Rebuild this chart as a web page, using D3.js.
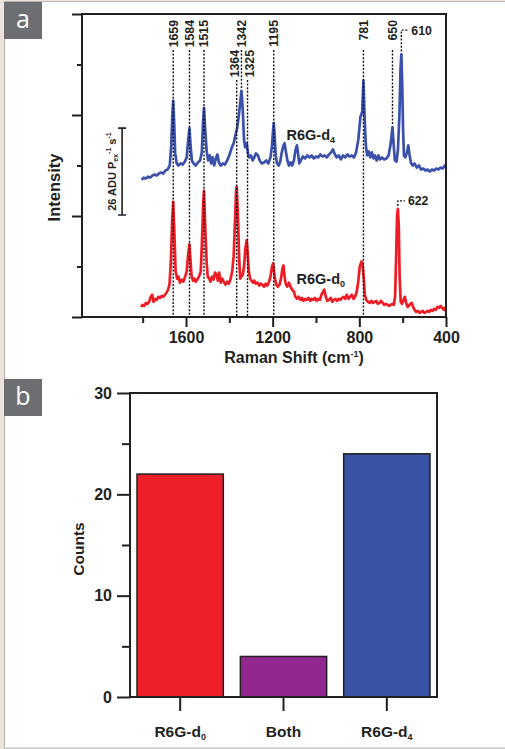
<!DOCTYPE html>
<html>
<head>
<meta charset="utf-8">
<script src="https://cdn.jsdelivr.net/npm/d3@7"></script>
<style>
    body { margin: 0; background: #ece3d9; }
    svg { display: block; }
    text { font-family: "Liberation Sans", Arial, sans-serif; font-weight: bold; fill: #231f20; }
</style>
</head>
<body>
<div id="chart"></div>
<script>
// ---- data: panel a, Raman spectra [shift (cm-1), intensity (a.u.)]
const spectrumD4 = [
    [1805, 136], [1795, 138], [1785, 137], [1775, 139], [1765, 138], [1755, 140], [1745, 141], [1735, 140],
    [1725, 142], [1715, 143], [1705, 142], [1695, 145], [1685, 146], [1675, 150], [1668, 170], [1663, 200],
    [1659, 214], [1655, 195], [1650, 162], [1643, 152], [1635, 150], [1625, 152], [1615, 151], [1605, 154],
    [1597, 158], [1590, 175], [1584, 187], [1579, 170], [1573, 155], [1565, 152], [1555, 150], [1545, 153],
    [1535, 155], [1527, 163], [1522, 190], [1517, 207], [1512, 188], [1505, 165], [1498, 155], [1490, 160],
    [1484, 152], [1477, 158], [1470, 150], [1462, 157], [1455, 161], [1448, 153], [1440, 150], [1430, 152],
    [1420, 151], [1410, 155], [1400, 160], [1390, 167], [1380, 172], [1372, 180], [1364, 187], [1357, 198],
    [1350, 212], [1344, 224], [1338, 205], [1332, 175], [1327, 168], [1320, 172], [1314, 162], [1308, 158],
    [1300, 160], [1292, 155], [1285, 158], [1277, 162], [1268, 160], [1260, 155], [1250, 152], [1240, 153],
    [1230, 155], [1220, 152], [1210, 158], [1203, 170], [1198, 185], [1195, 192], [1191, 180], [1186, 160],
    [1180, 152], [1172, 150], [1165, 154], [1158, 163], [1150, 170], [1145, 172], [1140, 165], [1132, 155],
    [1125, 150], [1117, 153], [1110, 150], [1102, 155], [1095, 165], [1088, 170], [1083, 162], [1077, 152],
    [1070, 155], [1060, 159], [1050, 157], [1040, 160], [1030, 158], [1020, 160], [1010, 157], [1000, 159],
    [990, 158], [980, 161], [970, 159], [960, 160], [950, 158], [940, 161], [930, 163], [922, 166],
    [915, 162], [905, 158], [895, 160], [885, 156], [875, 160], [865, 158], [855, 161], [845, 159],
    [835, 160], [825, 158], [815, 163], [805, 175], [795, 198], [787, 203], [781, 234], [776, 200],
    [770, 170], [764, 160], [757, 164], [750, 158], [742, 163], [735, 157], [728, 160], [720, 155],
    [712, 160], [705, 156], [695, 158], [685, 156], [675, 157], [665, 160], [655, 172], [647, 188],
    [642, 172], [636, 155], [628, 154], [622, 165], [615, 200], [610, 245], [606, 260], [602, 230],
    [598, 185], [594, 160], [588, 158], [581, 162], [574, 170], [568, 160], [561, 152], [553, 150],
    [545, 152], [535, 148], [525, 150], [515, 146], [505, 147], [495, 145], [485, 146], [475, 144],
    [465, 146], [455, 145], [445, 147], [435, 146], [425, 148], [415, 147], [405, 150], [400, 151]
];

const spectrumD0 = [
    [1808, 10], [1800, 12], [1792, 11], [1785, 14], [1778, 13], [1770, 15], [1763, 20], [1756, 22],
    [1750, 15], [1742, 18], [1735, 17], [1728, 20], [1720, 19], [1712, 21], [1705, 20], [1697, 22],
    [1690, 24], [1683, 27], [1676, 32], [1670, 55], [1664, 95], [1659, 114], [1654, 85], [1648, 45],
    [1641, 38], [1635, 40], [1628, 34], [1620, 37], [1612, 35], [1604, 40], [1597, 45], [1590, 62],
    [1584, 72], [1579, 55], [1574, 40], [1568, 36], [1561, 38], [1555, 35], [1548, 37], [1540, 40],
    [1532, 45], [1527, 70], [1521, 110], [1517, 125], [1513, 100], [1505, 55], [1500, 40], [1493, 38],
    [1487, 35], [1480, 40], [1473, 37], [1466, 44], [1460, 42], [1453, 36], [1447, 44], [1440, 34],
    [1433, 38], [1426, 35], [1418, 32], [1410, 35], [1402, 33], [1394, 38], [1387, 45], [1380, 60],
    [1373, 100], [1369, 125], [1366, 129], [1361, 105], [1355, 60], [1350, 38], [1345, 40], [1338, 42],
    [1332, 50], [1326, 68], [1320, 76], [1315, 62], [1310, 45], [1304, 38], [1298, 36], [1290, 34],
    [1285, 36], [1278, 33], [1270, 34], [1262, 31], [1255, 33], [1248, 32], [1240, 30], [1232, 33],
    [1225, 31], [1218, 34], [1210, 40], [1203, 50], [1198, 53], [1195, 48], [1190, 38], [1183, 32],
    [1176, 30], [1168, 32], [1160, 40], [1155, 48], [1150, 51], [1145, 40], [1140, 33], [1133, 30],
    [1125, 34], [1118, 30], [1110, 27], [1102, 25], [1095, 20], [1087, 18], [1080, 20], [1072, 17],
    [1065, 19], [1058, 16], [1050, 18], [1042, 17], [1035, 19], [1027, 16], [1020, 18], [1012, 17],
    [1005, 19], [997, 16], [990, 18], [982, 17], [975, 22], [968, 25], [962, 27], [955, 20],
    [948, 16], [940, 17], [932, 19], [925, 15], [918, 17], [910, 18], [902, 16], [895, 18],
    [887, 17], [880, 19], [872, 20], [865, 18], [858, 22], [850, 18], [842, 20], [835, 22],
    [827, 18], [820, 20], [812, 25], [805, 35], [798, 50], [790, 55], [785, 52], [780, 40],
    [775, 22], [768, 17], [760, 15], [752, 14], [745, 16], [737, 14], [730, 15], [722, 16],
    [715, 13], [707, 14], [700, 16], [692, 14], [685, 12], [678, 13], [670, 12], [662, 11],
    [655, 12], [648, 13], [641, 12], [635, 20], [630, 60], [626, 100], [622, 107], [618, 90],
    [614, 40], [609, 15], [603, 13], [596, 17], [590, 20], [584, 14], [578, 10], [572, 11],
    [565, 13], [558, 14], [552, 10], [545, 7], [538, 5], [530, 6], [522, 4], [515, 5],
    [507, 6], [500, 4], [492, 5], [485, 6], [478, 5], [470, 7], [462, 6], [455, 8],
    [447, 7], [440, 10], [432, 9], [425, 11], [418, 9], [410, 7], [405, 9], [400, 6]
];

// labelled peaks: label text, where its guide sits on the axis (as drawn), label row, guide end
const peakLabels = ["1659", "1584", "1515", "1364", "1342", "1325", "1195", "781", "650"];
const peakGuides = [1659, 1584, 1517, 1366, 1344, 1316, 1195, 781, 647];
const peakRows   = [0, 0, 0, 1, 0, 1, 0, 0, 0];
const peakStops  = ["axis", "axis", "axis", "axis", "d4", "axis", "axis", "axis", "d4"];
// bracket labels: [label, guide shift, peak intensity, label intensity]
const bracketPeaks = [["610", 606, 260, 284], ["622", 622, 107, 115]];

const xTicksMajor = [1600, 1200, 800, 400];
const xTicksMinor = [1800, 1400, 1000, 600];
const scaleBar = { shift: 1895, lo: 101, hi: 187 };

// ---- data: panel b, counts
const categories = ["R6G-d0", "Both", "R6G-d4"];
const counts = [22, 4, 24];
const barColors = ["#ed1f29", "#92278f", "#3953a4"];

const width = 505;
const height = 749;

const svg = d3.select("#chart").append("svg")
    .attr("width", width)
    .attr("height", height);

svg.append("rect")
    .attr("x", 4.5).attr("y", 1.5)
    .attr("width", width).attr("height", 746.5)
    .attr("fill", "#fff")
    .attr("stroke", "#b3b3b3");

function panelTag(y, letter) {
    svg.append("rect")
        .attr("x", 4).attr("y", y)
        .attr("width", 38).attr("height", 37)
        .attr("fill", "#6d6e71");
    svg.append("text")
        .attr("x", 23).attr("y", y + 26)
        .attr("text-anchor", "middle")
        .style("font-family", "'Open Sans', 'Noto Sans', sans-serif")
        .style("font-weight", "normal")
        .style("font-size", "25px")
        .style("fill", "#fff")
        .text(letter);
}

// subscript / superscript helper
function addLabel(sel, parts) {
    parts.forEach(p => {
        const t = sel.append("tspan").text(p.t);
        if (p.sub) t.style("font-size", p.sub).attr("dy", p.dy);
    });
    return sel;
}

panelTag(2, "a");
panelTag(379, "b");

// ================= panel a
const a = { l: 82, r: 446, t: 14, b: 317 };
const x = d3.scaleLinear().domain([2080, 400]).range([a.l, a.r]);
const y = d3.scaleLinear().domain([0, 300]).range([a.b, a.t]);

const ga = svg.append("g");

const line = d3.line().x(d => x(d[0])).y(d => y(d[1]));

ga.append("path")
    .datum(spectrumD4)
    .attr("d", line)
    .attr("fill", "none")
    .attr("stroke", "#3b50ab")
    .attr("stroke-width", 2.7)
    .attr("stroke-linejoin", "round");

ga.append("path")
    .datum(spectrumD0)
    .attr("d", line)
    .attr("fill", "none")
    .attr("stroke", "#ee1c25")
    .attr("stroke-width", 2.7)
    .attr("stroke-linejoin", "round");

// peak guides + labels
const rowTop = [20, 50];
const rowLine = [50, 80];
// the two crowded lower labels sit a little apart from their guides
const labelNudge = { "1364": -2, "1325": 1.5 };
function peakOf(shift) {
    return d3.least(spectrumD4, d => Math.abs(d[0] - shift))[1];
}

peakLabels.forEach((lab, i) => {
    const px = x(peakGuides[i]);
    const yEnd = peakStops[i] === "axis" ? a.b : y(peakOf(peakGuides[i])) - 2;
    ga.append("line")
        .attr("x1", px).attr("x2", px)
        .attr("y1", rowLine[peakRows[i]]).attr("y2", yEnd)
        .attr("stroke", "#111")
        .attr("stroke-width", 1.4)
        .attr("stroke-dasharray", "2,1.6");
    ga.append("text")
        .attr("transform", `translate(${px + 4.5 + (labelNudge[lab] || 0)},${rowTop[peakRows[i]]}) rotate(-90)`)
        .attr("text-anchor", "end")
        .style("font-size", "12.3px")
        .text(lab);
});

bracketPeaks.forEach(([lab, s, pk, ly]) => {
    const px = x(s);
    const yl = y(ly);
    ga.append("path")
        .attr("d", `M${px},${y(pk) - 3}V${yl}H${px + 7}`)
        .attr("fill", "none")
        .attr("stroke", "#111")
        .attr("stroke-width", 1.4)
        .attr("stroke-dasharray", "2,1.6");
    ga.append("text")
        .attr("x", px + 10).attr("y", yl + 4.5)
        .style("font-size", "12.3px")
        .text(lab);
});

// series names
addLabel(ga.append("text").attr("x", x(1136)).attr("y", y(175)).style("font-size", "14.5px"),
    [{ t: "R6G-d" }, { t: "4", sub: "9px", dy: 3 }]);
addLabel(ga.append("text").attr("x", x(1090)).attr("y", y(33)).style("font-size", "14.5px"),
    [{ t: "R6G-d" }, { t: "0", sub: "9px", dy: 3 }]);

// scale bar
const sbx = x(scaleBar.shift);
ga.append("path")
    .attr("d", `M${sbx - 4},${y(scaleBar.hi)}H${sbx + 4}M${sbx},${y(scaleBar.hi)}V${y(scaleBar.lo)}M${sbx - 4},${y(scaleBar.lo)}H${sbx + 4}`)
    .attr("stroke", "#231f20")
    .attr("stroke-width", 1.6)
    .attr("fill", "none");
addLabel(ga.append("text")
        .attr("transform", `translate(${sbx - 6},${(y(scaleBar.hi) + y(scaleBar.lo)) / 2}) rotate(-90)`)
        .attr("text-anchor", "middle")
        .style("font-size", "11px"),
    [{ t: "26 ADU P" }, { t: "ex", sub: "7px", dy: 2 }, { t: "-1", sub: "7px", dy: -7 },
     { t: " s", sub: "11px", dy: 5 }, { t: "-1", sub: "7px", dy: -5 }]);

// axes
function styleAxis(g) {
    g.select(".domain").remove();
    g.selectAll(".tick line").attr("stroke", "#231f20").attr("stroke-width", 2);
    g.selectAll(".tick text").style("font-size", "16px").attr("fill", "#231f20");
}

ga.append("g")
    .attr("transform", `translate(0,${a.b})`)
    .call(d3.axisBottom(x).tickValues(xTicksMajor).tickSize(10).tickPadding(5).tickFormat(d3.format("d")))
    .call(styleAxis);
ga.append("g")
    .attr("transform", `translate(0,${a.b})`)
    .call(d3.axisBottom(x).tickValues(xTicksMinor).tickSize(6).tickFormat(""))
    .call(styleAxis);
ga.append("g")
    .attr("transform", `translate(${a.l},0)`)
    .call(d3.axisLeft(y).tickValues([0, 100, 200, 300]).tickSize(10).tickFormat(""))
    .call(styleAxis);
ga.append("g")
    .attr("transform", `translate(${a.l},0)`)
    .call(d3.axisLeft(y).tickValues([50, 150, 250]).tickSize(5).tickFormat(""))
    .call(styleAxis);

ga.append("rect")
    .attr("x", a.l).attr("y", a.t)
    .attr("width", a.r - a.l).attr("height", a.b - a.t)
    .attr("fill", "none")
    .attr("stroke", "#231f20")
    .attr("stroke-width", 2);

addLabel(ga.append("text")
        .attr("x", (a.l + a.r) / 2 + 30).attr("y", 363)
        .attr("text-anchor", "middle")
        .style("font-size", "16px"),
    [{ t: "Raman Shift (cm" }, { t: "-1", sub: "9px", dy: -6 }, { t: ")", sub: "16px", dy: 6 }]);

ga.append("text")
    .attr("transform", `translate(60,${(a.t + a.b) / 2 + 22}) rotate(-90)`)
    .attr("text-anchor", "middle")
    .style("font-size", "16.5px")
    .text("Intensity");

// ================= panel b
const b = { l: 130, r: 437, t: 393, b: 697 };
const xb = d3.scaleBand().domain(categories).range([b.l, b.r]).paddingInner(0.165).paddingOuter(0.068);
const yb = d3.scaleLinear().domain([0, 30]).range([b.b, b.t]);

const gb = svg.append("g");

gb.selectAll(".bar")
    .data(categories)
    .enter().append("rect")
    .attr("class", "bar")
    .attr("x", d => xb(d))
    .attr("y", (d, i) => yb(counts[i]))
    .attr("width", xb.bandwidth())
    .attr("height", (d, i) => yb(0) - yb(counts[i]))
    .attr("fill", (d, i) => barColors[i])
    .attr("stroke", "#231f20")
    .attr("stroke-width", 1.5);

gb.append("g")
    .attr("transform", `translate(${b.l},0)`)
    .call(d3.axisLeft(yb).tickValues([0, 10, 20, 30]).tickSize(13).tickPadding(5))
    .call(styleAxis);
gb.append("g")
    .attr("transform", `translate(${b.l},0)`)
    .call(d3.axisLeft(yb).tickValues([5, 15, 25]).tickSize(8).tickFormat(""))
    .call(styleAxis);

gb.append("g")
    .attr("transform", `translate(0,${b.b})`)
    .call(d3.axisBottom(xb).tickSize(14).tickFormat(""))
    .call(styleAxis);

categories.forEach(c => {
    const t = gb.append("text")
        .attr("x", xb(c) + xb.bandwidth() / 2)
        .attr("y", 737)
        .attr("text-anchor", "middle")
        .style("font-size", "15.5px");
    if (c === "Both") t.text(c);
    else addLabel(t, [{ t: c.slice(0, -1) }, { t: c.slice(-1), sub: "9px", dy: 3 }]);
});

gb.append("rect")
    .attr("x", b.l).attr("y", b.t)
    .attr("width", b.r - b.l).attr("height", b.b - b.t)
    .attr("fill", "none")
    .attr("stroke", "#231f20")
    .attr("stroke-width", 2);

gb.append("text")
    .attr("transform", `translate(84,${(b.t + b.b) / 2 + 4}) rotate(-90)`)
    .attr("text-anchor", "middle")
    .style("font-size", "15.5px")
    .text("Counts");
</script>
</body>
</html>
